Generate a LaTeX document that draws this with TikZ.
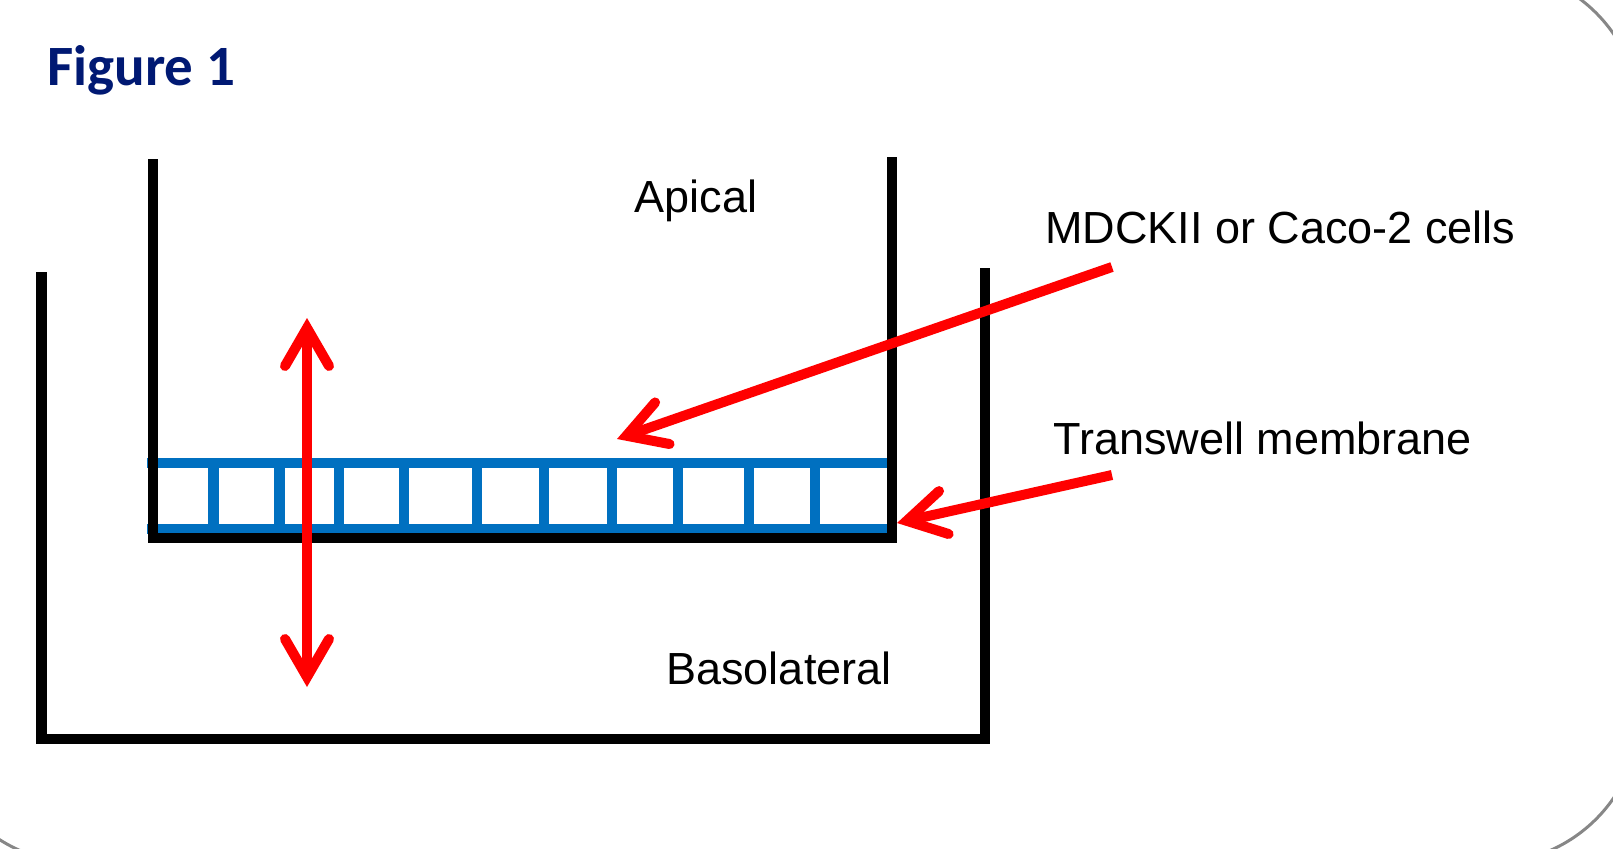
\documentclass[tikz,border=0pt]{standalone}
\usepackage{fontspec}
\setmainfont{Liberation Sans}
\newfontfamily\figfont{Carlito}
\usetikzlibrary{arrows.meta}
\definecolor{figblue}{RGB}{0,25,115}
\definecolor{membblue}{RGB}{0,112,192}
\definecolor{framegray}{RGB}{135,135,135}
\tikzset{
  wall/.style={draw=black, line width=10.5pt, line join=miter},
  memb/.style={draw=membblue, line width=10pt},
  bar/.style={draw=membblue, line width=10.5pt},
  redarrow/.style={draw=red, line width=10pt, line cap=butt,
    arrows={-{Straight Barb[length=38pt,width=44pt,line cap=round,line join=miter]}}},
  redboth/.style={draw=red, line width=10pt,
    arrows={{Straight Barb[length=38pt,width=44pt,line cap=round,line join=miter]}-{Straight Barb[length=38pt,width=44pt,line cap=round,line join=miter]}}},
  lbl/.style={font=\fontsize{45}{54}\selectfont, inner sep=0pt, anchor=base}
}
\begin{document}
\begin{tikzpicture}[x=1pt,y=-1pt]
\clip (0,0) rectangle (1613,848);
\fill[white] (0,0) rectangle (1613,848);
% frame
\draw[framegray, line width=3pt, rounded corners=150pt] (-70,-31) rectangle (1640,863);
% title
\node[anchor=base west, inner sep=0pt, text=figblue, font=\figfont\bfseries\fontsize{57}{66}\selectfont] (title) at (47,86) {Figure 1};
% outer well
\draw[wall] (41.5,272) -- (41.5,739) -- (985,739) -- (985,268);
% membrane
\draw[memb] (147,462.5) -- (888,462.5);
\draw[memb] (147,528.5) -- (888,528.5);
\foreach \xx in {213.5,279.5,339,404,477,544,612,678,749,815}
  \draw[bar] (\xx,467) -- (\xx,524);
% inner insert
\draw[wall] (153,159) -- (153,538) -- (892,538) -- (892,157);
% labels
\node[lbl] (apical) at (696,212) {Apical};
\node[lbl] (baso) at (779,684) {Basolateral};
\node[lbl, anchor=base west] (cells) at (1045,243) {MDCKII or Caco-2 cells};
\node[lbl, anchor=base west] (transwell) at (1053,454) {Transwell membrane};
% arrow coordinates
\coordinate (cellsTail) at (1112,267);
\coordinate (cellsTip) at (617,439);
\coordinate (membTail) at (1112,475);
\coordinate (membTip) at (897,523);
\coordinate (upTip) at (307,318);
\coordinate (downTip) at (307,687);
\draw[redarrow] (cellsTail) -- (cellsTip);
\draw[redarrow] (membTail) -- (membTip);
\draw[redboth] (downTip) -- (upTip);
\end{tikzpicture}
\end{document}
